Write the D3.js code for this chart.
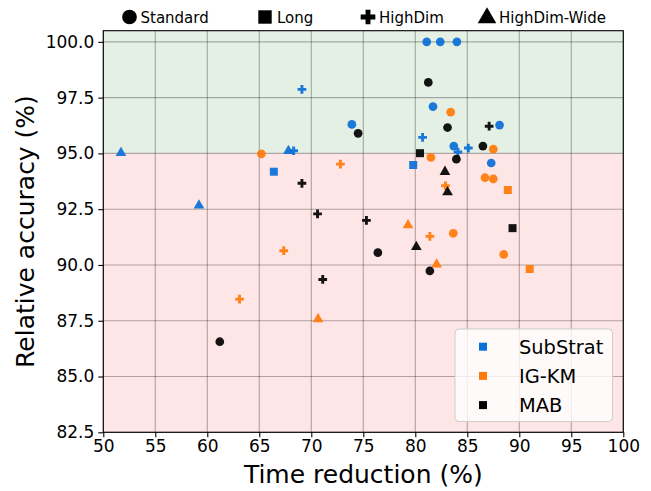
<!DOCTYPE html>
<html><head><meta charset="utf-8">
<script src="https://cdn.jsdelivr.net/npm/d3@7"></script>
<style>body{margin:0;background:#fff;} svg{display:block;font-family:"DejaVu Sans",sans-serif;}</style>
</head><body>
<svg id="c" width="651" height="491"></svg>
<script>
// ---- data ----
const methods = ["SubStrat", "IG-KM", "MAB"];
const datasetTypes = ["Standard", "Long", "HighDim", "HighDim-Wide"];
const xTicks = [50,55,60,65,70,75,80,85,90,95,100];
const yTicks = [82.5,85.0,87.5,90.0,92.5,95.0,97.5,100.0];

// [time reduction %, relative accuracy %]
const subStratStandard = [[81.1,100],[82.4,100],[84.0,100],[81.7,97.1],[88.1,96.27],[73.9,96.3],[83.7,95.33],[87.3,94.57]];
const subStratLong     = [[66.4,94.18],[79.8,94.48]];
const subStratHighDim  = [[69.1,97.87],[68.3,95.12],[80.7,95.72],[85.1,95.24],[84.1,95.06]];
const subStratWide     = [[51.7,95.07],[67.8,95.16],[59.2,92.71]];

const igkmStandard = [[65.2,94.98],[83.4,96.85],[87.5,95.19],[81.5,94.82],[86.7,93.91],[87.5,93.86],[83.65,91.42],[88.5,90.47]];
const igkmLong     = [[88.9,93.36],[91.0,89.82]];
const igkmHighDim  = [[72.8,94.52],[82.9,93.55],[81.4,91.28],[67.35,90.64],[63.1,88.47]];
const igkmWide     = [[79.3,91.83],[82.05,90.07],[70.65,87.62]];

const mabStandard = [[74.5,95.9],[81.25,98.18],[83.1,96.16],[86.5,95.33],[83.95,94.74],[76.4,90.55],[81.4,89.73],[61.2,86.56]];
const mabLong     = [[80.45,95.01],[89.35,91.65]];
const mabHighDim  = [[87.1,96.22],[75.3,92.0],[69.1,93.66],[70.6,92.29],[71.1,89.35]];
const mabWide     = [[82.85,94.22],[83.1,93.31],[80.1,90.85]];

const seriesTable = [
  {method:"SubStrat", groups:[subStratStandard, subStratLong, subStratHighDim, subStratWide]},
  {method:"IG-KM",    groups:[igkmStandard, igkmLong, igkmHighDim, igkmWide]},
  {method:"MAB",      groups:[mabStandard, mabLong, mabHighDim, mabWide]}
];

// ---- styles ----
const colors = {"SubStrat":"#0a6fd8","IG-KM":"#ff7a0a","MAB":"#000000"};
const symbolTypes = {"Standard":d3.symbolCircle,"Long":d3.symbolSquare,"HighDim":d3.symbolCross,"HighDim-Wide":d3.symbolTriangle};
const symbolSizes = {"Standard":60,"Long":64,"HighDim":42,"HighDim-Wide":50};

const svg = d3.select("#c");
const m = {l:103.3, r:623.3, t:30.7, b:432.3};
const x = d3.scaleLinear().domain([50,100]).range([m.l, m.r]);
const y = d3.scaleLinear().domain([82.5,100.5]).range([m.b, m.t]);

// background bands
svg.append("rect").attr("x",m.l).attr("y",y(100.5)).attr("width",m.r-m.l).attr("height",y(95)-y(100.5)).attr("fill","#e5f0e5");
svg.append("rect").attr("x",m.l).attr("y",y(95)).attr("width",m.r-m.l).attr("height",y(82.5)-y(95)).attr("fill","#fee6e6");

// grid
const grid = svg.append("g").attr("stroke","#000").attr("stroke-opacity",0.3).attr("stroke-width",1.1);
xTicks.forEach(t=>grid.append("line").attr("x1",x(t)).attr("x2",x(t)).attr("y1",m.t).attr("y2",m.b));
yTicks.forEach(t=>grid.append("line").attr("x1",m.l).attr("x2",m.r).attr("y1",y(t)).attr("y2",y(t)));

// points
const pts = svg.append("g");
seriesTable.forEach(s=>{
  s.groups.forEach((g,i)=>{
    const dt = datasetTypes[i];
    const sym = d3.symbol().type(symbolTypes[dt]).size(symbolSizes[dt]);
    pts.selectAll(null).data(g).enter().append("path")
      .attr("d", sym)
      .attr("transform", d=>`translate(${x(d[0])},${y(d[1]) + (dt==="HighDim-Wide"?1:0)})`)
      .attr("fill", colors[s.method]).attr("fill-opacity",0.92);
  });
});

// axes
const xAxis = svg.append("g").attr("transform",`translate(0,${m.b})`)
  .call(d3.axisBottom(x).tickValues(xTicks).tickFormat(d3.format("d")).tickSize(5).tickPadding(3));
const yAxis = svg.append("g").attr("transform",`translate(${m.l},0)`)
  .call(d3.axisLeft(y).tickValues(yTicks).tickFormat(d3.format(".1f")).tickSize(5).tickPadding(4));
[xAxis,yAxis].forEach(a=>{
  a.selectAll("text").attr("font-size","17px").attr("fill","#000").attr("font-family","DejaVu Sans");
  a.selectAll("line").attr("stroke","#000").attr("stroke-width",1.1);
  a.select(".domain").remove();
});
// frame
svg.append("rect").attr("x",m.l).attr("y",m.t).attr("width",m.r-m.l).attr("height",m.b-m.t)
  .attr("fill","none").attr("stroke","#000").attr("stroke-width",1.1);

// axis labels
svg.append("text").attr("x",(m.l+m.r)/2).attr("y",483).attr("text-anchor","middle")
  .attr("font-size","25px").text("Time reduction (%)");
svg.append("text").attr("transform",`translate(34,${(m.t+m.b)/2}) rotate(-90)`).attr("text-anchor","middle")
  .attr("font-size","25px").text("Relative accuracy (%)");

// top legend (dataset types)
const topLeg = [{t:"Standard",mx:129.5,tx:140.5},{t:"Long",mx:265,tx:277},{t:"HighDim",mx:368,tx:379},{t:"HighDim-Wide",mx:487,tx:499}];
const topSizes = {"Standard":170,"Long":180,"HighDim":120,"HighDim-Wide":150};
topLeg.forEach(d=>{
  svg.append("path").attr("d", d3.symbol().type(symbolTypes[d.t]).size(topSizes[d.t]))
    .attr("transform",`translate(${d.mx},${d.t==="HighDim-Wide"?18:17})`).attr("fill","#000");
  svg.append("text").attr("x",d.tx).attr("y",22.5).attr("font-size","15px").text(d.t);
});

// method legend
const lg = svg.append("g");
lg.append("rect").attr("x",455).attr("y",329).attr("width",157.5).attr("height",92.5).attr("rx",4)
  .attr("fill","#fff").attr("fill-opacity",0.8).attr("stroke","#cccccc").attr("stroke-width",1);
methods.forEach((mt,i)=>{
  const yy = 346.7 + i*29.2;
  lg.append("rect").attr("x",479).attr("y",yy-4).attr("width",8).attr("height",8).attr("fill",colors[mt]);
  lg.append("text").attr("x",519).attr("y",yy+7).attr("font-size","19.4px").text(mt);
});
</script>
</body></html>
